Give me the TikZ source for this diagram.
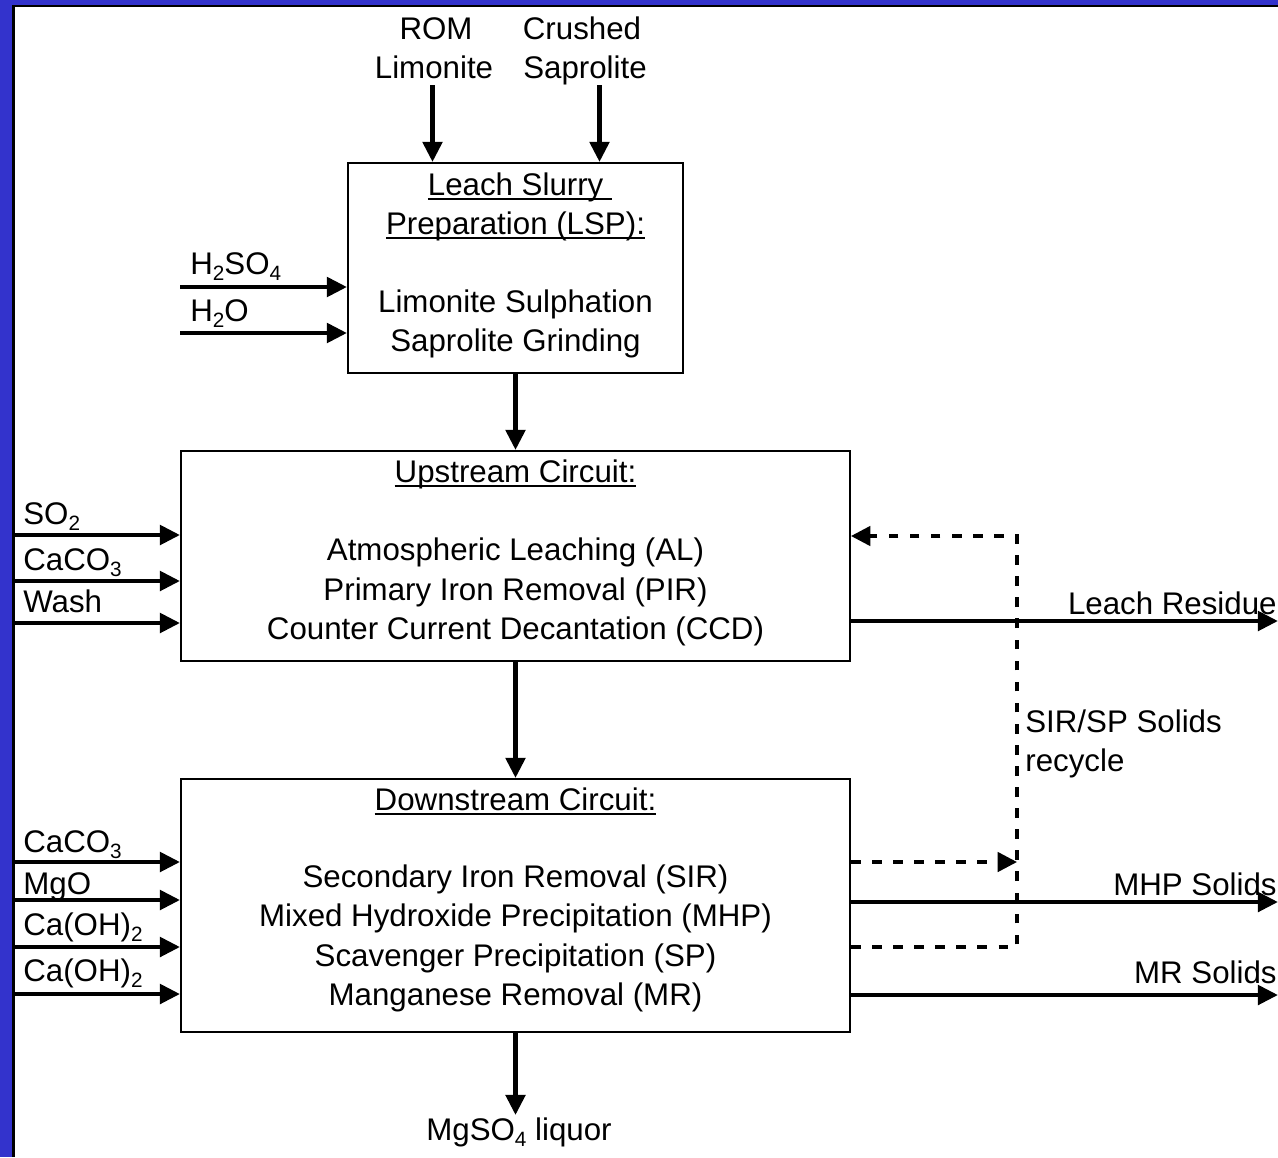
\documentclass[tikz,border=0pt]{standalone}
\usepackage{fontspec}
\setmainfont{Liberation Sans}
\usetikzlibrary{arrows.meta}
\definecolor{frameblue}{RGB}{51,51,204}
\newcommand\myul[1]{\setbox0\hbox{#1}\rlap{\rule[-2.8pt]{\wd0}{1.1pt}}\box0}
\newcommand\chemsub[1]{\raisebox{-3.6pt}{\fontsize{11.8}{12}\selectfont #1}}
\begin{document}
\begin{tikzpicture}[x=0.02cm,y=-0.02cm,
  box/.style={draw, line width=1.2pt, inner sep=0pt},
  lbl/.style={font=\fontsize{17.8}{22}\selectfont, inner sep=0pt, anchor=base},
  lblw/.style={lbl, anchor=base west},
  lble/.style={lbl, anchor=base east},
  flow/.style={line width=2.6pt, -{Triangle[length=11.5pt,width=11pt]}},
  rec/.style={line width=2pt, dash pattern=on 5.5pt off 6.5pt},
  recarrow/.style={rec, -{Triangle[length=11pt,width=11pt]}},
]
\useasboundingbox (0,0) rectangle (1278,1157);
% frame
\fill[frameblue] (0,0) rectangle (1278,1157);
\fill[white] (13,5) rectangle (1278,1157);
\draw[line width=1.2pt] (13.5,1157) -- (13.5,6) -- (1278,6);

% boxes
\node[box, minimum width=6.7cm, minimum height=4.2cm] (lsp) at (515.5,268) {};
\node[box, minimum width=13.38cm, minimum height=4.2cm] (up) at (515.5,556) {};
\node[box, minimum width=13.38cm, minimum height=5.06cm] (down) at (515.5,905.5) {};

% box texts
\node[lbl] (lspt1) at (520,195) {\myul{Leach Slurry }};
\node[lbl] (lspt2) at (515.5,234) {\myul{Preparation (LSP):}};
\node[lbl] (lspt3) at (515.5,312) {Limonite Sulphation};
\node[lbl] (lspt4) at (515.5,351) {Saprolite Grinding};

\node[lbl] (upt1) at (515.5,482) {\myul{Upstream Circuit:}};
\node[lbl] (upt2) at (515.5,560) {Atmospheric Leaching (AL)};
\node[lbl] (upt3) at (515.5,600) {Primary Iron Removal (PIR)};
\node[lbl] (upt4) at (515.5,639) {Counter Current Decantation (CCD)};

\node[lbl] (dnt1) at (515.5,810) {\myul{Downstream Circuit:}};
\node[lbl] (dnt2) at (515.5,887) {Secondary Iron Removal (SIR)};
\node[lbl] (dnt3) at (515.5,926) {Mixed Hydroxide Precipitation (MHP)};
\node[lbl] (dnt4) at (515.5,966) {Scavenger Precipitation (SP)};
\node[lbl] (dnt5) at (515.5,1005) {Manganese Removal (MR)};

% top feeds
\node[lbl] (rom1) at (436,39) {ROM};
\node[lbl] (rom2) at (434,78) {Limonite};
\node[lbl] (cru1) at (582,39) {Crushed};
\node[lbl] (cru2) at (585,78) {Saprolite};
\coordinate (romtop) at (432.5,85);
\coordinate (crutop) at (599.5,85);
\draw[flow] (romtop) -- (romtop |- lsp.north);
\draw[flow] (crutop) -- (crutop |- lsp.north);

% LSP side feeds
\node[lblw] (h2so4) at (190,274) {H\chemsub{2}SO\chemsub{4}};
\node[lblw] (h2o) at (190,321) {H\chemsub{2}O};
\coordinate (h2so4s) at (180,287);
\coordinate (h2os) at (180,333);
\draw[flow] (h2so4s) -- (h2so4s -| lsp.west);
\draw[flow] (h2os) -- (h2os -| lsp.west);

% main flow
\draw[flow] (lsp.south) -- (up.north);
\draw[flow] (up.south) -- (down.north);
\coordinate (mgend) at (515.5,1115);
\draw[flow] (down.south) -- (mgend);
\node[lbl] (mgso4) at (519,1140) {MgSO\chemsub{4} liquor};

% upstream feeds
\node[lblw] (so2) at (23,524) {SO\chemsub{2}};
\node[lblw] (caco3a) at (23,570) {CaCO\chemsub{3}};
\node[lblw] (wash) at (23,612) {Wash};
\coordinate (so2s) at (14,535);
\coordinate (caco3as) at (14,581);
\coordinate (washs) at (14,623);
\draw[flow] (so2s) -- (so2s -| up.west);
\draw[flow] (caco3as) -- (caco3as -| up.west);
\draw[flow] (washs) -- (washs -| up.west);

% downstream feeds
\node[lblw] (caco3b) at (23,852) {CaCO\chemsub{3}};
\node[lblw] (mgo) at (23,894) {MgO};
\node[lblw] (caoha) at (23,935) {Ca(OH)\chemsub{2}};
\node[lblw] (caohb) at (23,981) {Ca(OH)\chemsub{2}};
\coordinate (caco3bs) at (14,862);
\coordinate (mgos) at (14,900);
\coordinate (caohas) at (14,947);
\coordinate (caohbs) at (14,994);
\draw[flow] (caco3bs) -- (caco3bs -| down.west);
\draw[flow] (mgos) -- (mgos -| down.west);
\draw[flow] (caohas) -- (caohas -| down.west);
\draw[flow] (caohbs) -- (caohbs -| down.west);

% products
\coordinate (lrend) at (1278,621);
\coordinate (mhpend) at (1278,902);
\coordinate (mrend) at (1278,995);
\draw[flow] (lrend -| up.east) -- (lrend);
\draw[flow] (mhpend -| down.east) -- (mhpend);
\draw[flow] (mrend -| down.east) -- (mrend);
\node[lble] (lr) at (1277,614) {Leach Residue};
\node[lble] (mhp) at (1277,895) {MHP Solids};
\node[lble] (mr) at (1277,983) {MR Solids};

% recycle
\coordinate (rtop) at (1017,536);
\coordinate (rbot) at (1017,947);
\coordinate (rmid) at (1017,862);
\draw[recarrow] (rbot -| down.east) -- (rbot) -- (rtop) -- (rtop -| up.east);
\draw[recarrow] (rmid -| down.east) -- (rmid);
\node[lblw] (rec1) at (1025,732) {SIR/SP Solids};
\node[lblw] (rec2) at (1025,771) {recycle};
\end{tikzpicture}
\end{document}
